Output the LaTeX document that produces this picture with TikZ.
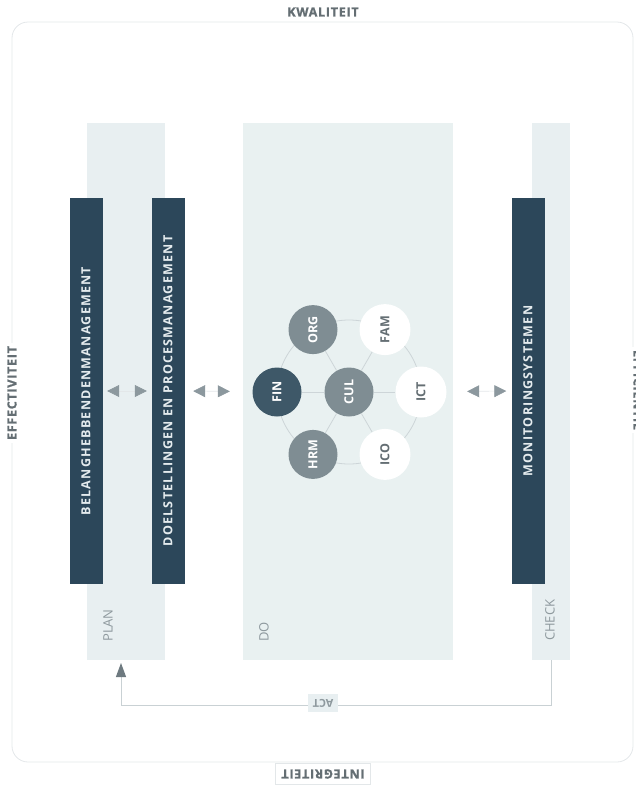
\documentclass[tikz,border=0pt]{standalone}
\usepackage{fontspec}
\setmainfont{Open Sans}
\newfontfamily\spacedfont[LetterSpace=10]{Open Sans}
\newfontfamily\sidefont[LetterSpace=6,FakeBold=1.2]{Open Sans}
\usetikzlibrary{arrows.meta}
\definecolor{barblue}{HTML}{2C475A}
\definecolor{colbg}{HTML}{E8EFF1}
\definecolor{dobg}{HTML}{E9F1F1}
\definecolor{labelgray}{HTML}{646E73}
\definecolor{softgray}{HTML}{8E999E}
\definecolor{ringgray}{HTML}{CDD5D8}
\definecolor{fincol}{HTML}{3E5868}
\definecolor{midcol}{HTML}{7F8D93}
\definecolor{bordergray}{HTML}{E3E7E9}
\definecolor{tipgray}{HTML}{8C989E}
\definecolor{actgray}{HTML}{6E7A80}
\definecolor{actline}{HTML}{C9D1D4}
\definecolor{bartext}{HTML}{E4EBEE}
\pgfdeclarelayer{bglayer}
\pgfdeclarelayer{linklayer}
\pgfsetlayers{bglayer,linklayer,main}
\tikzset{
  column/.style={fill=colbg, draw=none, inner sep=0pt},
  barbox/.style={fill=barblue, draw=none, inner sep=0pt, minimum width=33pt, minimum height=386pt,
    text=bartext, font=\spacedfont\bfseries\fontsize{12.5}{12.5}\selectfont},
  collabel/.style={text=softgray, font=\fontsize{13}{13}\selectfont, rotate=90, anchor=west, inner sep=0pt},
  sidelabel/.style={text=labelgray, font=\sidefont\bfseries\fontsize{12.5}{12.5}\selectfont, fill=white, inner sep=3pt},
  ball/.style={circle, inner sep=0pt, minimum size=49pt, font=\bfseries\fontsize{12.5}{12.5}\selectfont},
  darkball/.style={ball, fill=fincol, text=white},
  midball/.style={ball, fill=midcol, text=white},
  whiteball/.style={ball, fill=white, text=labelgray, minimum size=51pt},
  pairarrow/.style={draw=bordergray, line width=0.6pt,
    {Triangle[length=12pt,width=12pt,color=tipgray]}-{Triangle[length=12pt,width=12pt,color=tipgray]}},
  actarrow/.style={draw=actline, line width=1pt, -{Triangle[length=14pt,width=10pt,color=actgray]}},
  ringline/.style={draw=ringgray, line width=0.8pt}
}
\begin{document}
\begin{tikzpicture}[x=1pt,y=-1pt]
\useasboundingbox (0,0) rectangle (635,793);
% outer frame
\draw[bordergray, line width=0.8pt, rounded corners=16pt] (12,22) rectangle (633,762);
% side labels
\node[sidelabel] (kwal) at (323,12) {KWALITEIT};
\node[sidelabel, rotate=90] (effec) at (12,393) {EFFECTIVITEIT};
\node[sidelabel, rotate=180, draw=bordergray, inner sep=6pt] (integ) at (323,774) {INTEGRITEIT};
\node[sidelabel, rotate=-90] (effic) at (638,390) {EFFICIENTIE};
% columns
\begin{pgfonlayer}{bglayer}
\node[column, minimum width=78pt, minimum height=537pt] (plan) at (126,391.5) {};
\node[column, fill=dobg, minimum width=210pt, minimum height=537pt] (do) at (348,391.5) {};
\node[column, minimum width=38pt, minimum height=537pt] (check) at (551,391.5) {};
\end{pgfonlayer}
\node[collabel] (planlbl) at (108,642) {PLAN};
\node[collabel] (dolbl) at (264,642) {DO};
\node[collabel] (checklbl) at (550,641) {CHECK};
% bars
\node[barbox] (bar1) at (86,391) {\rotatebox{90}{BELANGHEBBENDENMANAGEMENT}};
\node[barbox] (bar2) at (168,391) {\rotatebox{90}{DOELSTELLINGEN EN PROCESMANAGEMENT}};
\node[barbox] (bar3) at (528,391) {\rotatebox{90}{MONITORINGSYSTEMEN}};
% circles
\node[midball] (cul) at (349,392) {\rotatebox{90}{CUL}};
\node[darkball] (fin) at (277,392) {\rotatebox{90}{FIN}};
\node[midball] (org) at (313,329.6) {\rotatebox{90}{ORG}};
\node[midball] (hrm) at (313,454.4) {\rotatebox{90}{HRM}};
\node[whiteball] (fam) at (385,329.6) {\rotatebox{90}{FAM}};
\node[whiteball] (ict) at (421,392) {\rotatebox{90}{ICT}};
\node[whiteball] (ico) at (385,454.4) {\rotatebox{90}{ICO}};
\begin{pgfonlayer}{linklayer}
\draw[ringline] (cul.center) circle[radius=72pt];
\foreach \n in {fin,org,hrm,fam,ict,ico}{\draw[ringline] (cul) -- (\n);}
\end{pgfonlayer}
% arrow pairs
\draw[pairarrow, shorten <=4.5pt, shorten >=4.5pt] (bar1.east) -- (bar2.west);
\draw[pairarrow, shorten <=8.5pt, shorten >=13pt] (bar2.east) -- (do.west);
\draw[pairarrow, shorten <=14pt, shorten >=5pt] (do.east) -- (bar3.west);
% ACT loop
\coordinate (planin) at (121,660);
\draw[actarrow, shorten >=3pt] (check.south) -- ++(0,45) -| (planin);
\node[fill=colbg, text=softgray, font=\bfseries\fontsize{11}{11}\selectfont, rotate=180, inner sep=5pt] (act) at (323,703) {ACT};
\end{tikzpicture}
\end{document}
